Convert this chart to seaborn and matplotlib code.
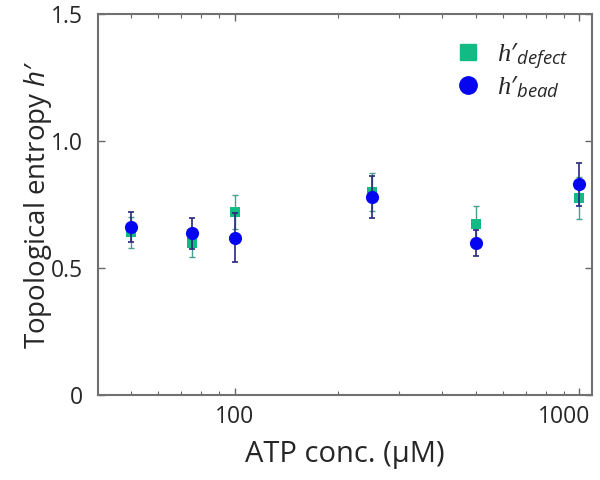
import numpy as np
import pandas as pd
import seaborn as sns
import matplotlib.pyplot as plt
import matplotlib.transforms as mtransforms
from matplotlib.ticker import FixedLocator, FixedFormatter, LogLocator, NullFormatter
from matplotlib.lines import Line2D

# ATP concentration (uM)
atp = [50, 75, 100, 250, 500, 1000]
h_defect = [0.64, 0.60, 0.72, 0.80, 0.675, 0.775]
h_defect_err = [0.06, 0.055, 0.066, 0.075, 0.07, 0.084]
h_bead = [0.662, 0.636, 0.62, 0.78, 0.598, 0.83]
h_bead_err = [0.06, 0.06, 0.095, 0.082, 0.051, 0.085]

c_defect = '#13bb84'
c_bead = '#0505f0'
c_bead_err = '#28287a'
c_defect_err = '#4a9e8e'

sns.set_style('ticks')
plt.rcParams['font.family'] = ['Open Sans', 'DejaVu Sans']
plt.rcParams['mathtext.fontset'] = 'custom'
plt.rcParams['mathtext.it'] = 'Liberation Serif:italic'
plt.rcParams['mathtext.sf'] = 'Open Sans:italic'
plt.rcParams['mathtext.rm'] = 'Open Sans'

df = pd.DataFrame({'atp': atp, 'defect': h_defect, 'defect_err': h_defect_err,
                   'bead': h_bead, 'bead_err': h_bead_err})

fig = plt.figure(figsize=(6, 4.8), dpi=100)
ax = fig.add_axes([0.164, 0.177, 0.823, 0.794])

ax.errorbar(df['atp'], df['defect'], yerr=df['defect_err'], fmt='none',
            ecolor=c_defect_err, elinewidth=1.0, capsize=2.2, capthick=1.0, zorder=2)
sns.scatterplot(data=df, x='atp', y='defect', marker='s', s=45, color=c_defect,
                edgecolor=c_defect, linewidth=0, ax=ax, zorder=3)
ax.errorbar(df['atp'], df['bead'], yerr=df['bead_err'], fmt='none',
            ecolor=c_bead_err, elinewidth=1.2, capsize=2.2, capthick=1.2, zorder=4)
sns.scatterplot(data=df, x='atp', y='bead', marker='o', s=90, color=c_bead,
                edgecolor=c_bead, linewidth=0, ax=ax, zorder=5)

ax.set_xscale('log')
ax.set_xlim(40.2, 1090)
ax.set_ylim(0, 1.5)

ax.xaxis.set_major_locator(FixedLocator([100, 1000]))
ax.xaxis.set_major_formatter(FixedFormatter(['100', '1000']))
ax.xaxis.set_minor_locator(LogLocator(base=10, subs=np.arange(2, 10)))
ax.xaxis.set_minor_formatter(NullFormatter())
ax.yaxis.set_major_locator(FixedLocator([0, 0.5, 1.0, 1.5]))
ax.yaxis.set_major_formatter(FixedFormatter(['0', '0.5', '1.0', '1.5']))

ax.tick_params(which='both', direction='in', top=True, right=True,
               color='#666666', labelsize=16.5)
ax.tick_params(axis='x', pad=7)
ax.tick_params(axis='y', pad=11)
ax.tick_params(which='major', length=5, width=1)
ax.tick_params(which='minor', length=3, width=0.8)

# keep "1000" inside the figure, as in the reference
fig.canvas.draw()
for lbl in ax.get_xticklabels():
    if lbl.get_text() == '1000':
        lbl.set_horizontalalignment('right')
        lbl.set_transform(lbl.get_transform() +
                          mtransforms.ScaledTranslation(11 / 100, 0, fig.dpi_scale_trans))

for s in ax.spines.values():
    s.set_color('#707070')
    s.set_linewidth(1.5)

ax.set_xlabel('ATP conc. (\u03bcM)', fontsize=21, labelpad=8)
ax.set_ylabel("Topological entropy $\\mathsf{h\u2032}$", fontsize=20, labelpad=-2)

handles = [
    Line2D([], [], marker='s', linestyle='none', color=c_defect, markersize=11.5),
    Line2D([], [], marker='o', linestyle='none', color=c_bead, markersize=12.5),
]
labels = ["$h\u2032_{\\mathsf{defect}}$", "$h\u2032_{\\mathsf{bead}}$"]
ax.legend(handles, labels, loc='upper right', frameon=False, fontsize=19,
          bbox_to_anchor=(1.0, 0.99), handlelength=1.0, handletextpad=0.6,
          labelspacing=0.15)

fig.savefig('out.png', dpi=100)
